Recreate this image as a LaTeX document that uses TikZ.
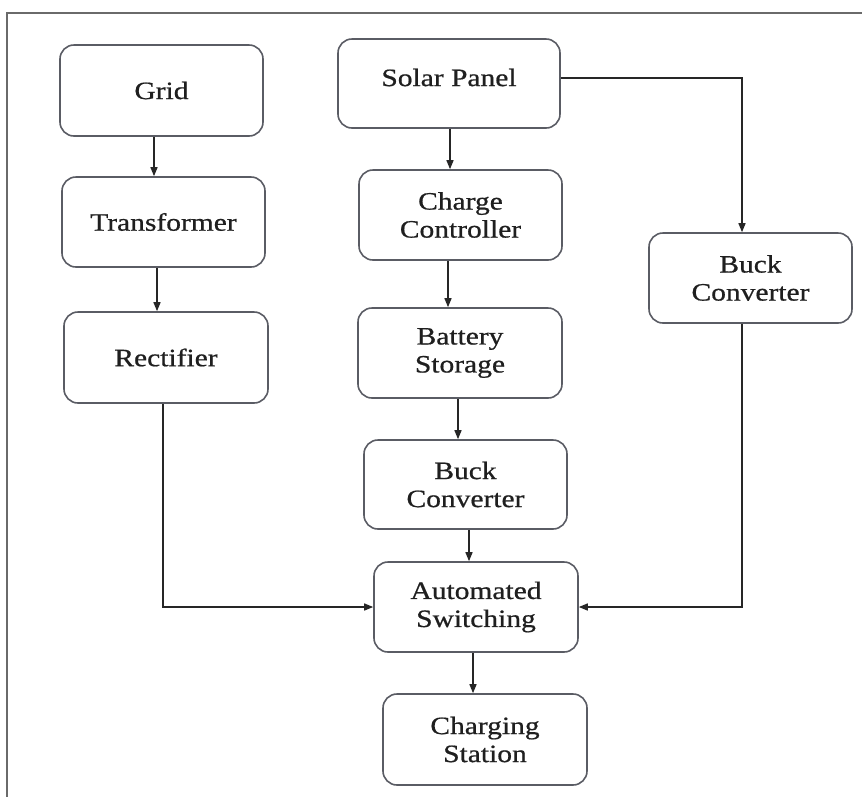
\documentclass[tikz,border=0pt]{standalone}
\usepackage{fontspec}
\setmainfont{Liberation Serif}[FakeStretch=1.18,FakeBold=0.7]
\usetikzlibrary{arrows.meta}
\definecolor{boxgray}{HTML}{5A5C64}
\definecolor{framegray}{HTML}{6A6A6A}
\begin{document}
\begin{tikzpicture}[x=1pt,y=-1pt,
  box/.style={draw=boxgray, line width=1.6pt, rounded corners=14pt, align=center,
    font=\fontsize{25}{28}\selectfont, text=black!88, inner sep=0pt},
  arr/.style={-{Triangle[length=9pt,width=7pt]}, line width=1.4pt, black!85},
  framestyle/.style={draw=framegray, line width=2pt}]
\useasboundingbox (0,0) rectangle (862,796);
\clip (0,0) rectangle (862,796);
\draw[framestyle] (7,13) rectangle (880,820);

\node[box, minimum width=203pt, minimum height=91pt] (grid) at (161.5,90.5) {Grid};
\node[box, minimum width=203pt, minimum height=90pt] (trans) at (163.5,222) {Transformer};
\node[box, minimum width=204pt, minimum height=91pt] (rect) at (166,357.5) {Rectifier};
\node[box, minimum width=222pt, minimum height=89pt,
      label={[font=\fontsize{25}{28}\selectfont, text=black!88, yshift=6pt]center:Solar Panel}] (solar) at (449,83.5) {};
\node[box, minimum width=203pt, minimum height=90pt] (charge) at (460.5,215) {Charge\\Controller};
\node[box, minimum width=203pt, minimum height=90pt] (buckR) at (750.5,278) {Buck\\Converter};
\node[box, minimum width=204pt, minimum height=90pt] (batt) at (460,353) {Battery\\Storage};
\node[box, minimum width=203pt, minimum height=89pt] (buckM) at (465.5,484.5) {Buck\\Converter};
\node[box, minimum width=204pt, minimum height=90pt] (auto) at (476,607) {Automated\\Switching};
\node[box, minimum width=204pt, minimum height=91pt] (charging) at (485,739.5) {Charging\\Station};

\draw[arr] (grid.south -| 154,0) -- (trans.north -| 154,0);
\draw[arr] (trans.south -| 157,0) -- (rect.north -| 157,0);
\draw[arr] (rect.south -| 163,0) |- (auto.west);
\draw[arr] (solar.south -| 450,0) -- (charge.north -| 450,0);
\draw[arr] (charge.south -| 448,0) -- (batt.north -| 448,0);
\draw[arr] (batt.south -| 458,0) -- (buckM.north -| 458,0);
\draw[arr] (buckM.south -| 469,0) -- (auto.north -| 469,0);
\draw[arr] (auto.south -| 473,0) -- (charging.north -| 473,0);
\draw[arr] (solar.east |- 0,78) -| (buckR.north -| 742,0);
\draw[arr] (buckR.south -| 742,0) |- (auto.east);
\end{tikzpicture}
\end{document}
